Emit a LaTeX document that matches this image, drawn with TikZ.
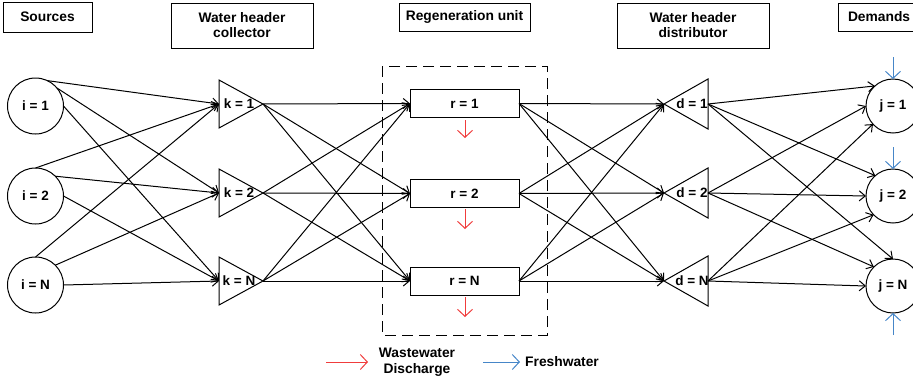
\documentclass[tikz,border=0pt]{standalone}
\usepackage{fontspec}
\setmainfont{Liberation Sans}
\usetikzlibrary{arrows.meta}
\definecolor{wastered}{RGB}{240,60,60}
\definecolor{freshblue}{RGB}{70,134,200}
\begin{document}
\begin{tikzpicture}[x=1pt,y=-1pt,
  lbl/.style={font=\fontsize{13.5}{15}\selectfont\bfseries},
  hdr/.style={draw,line width=1pt,font=\fontsize{13.8}{15}\selectfont\bfseries,align=center,inner sep=0pt},
  nodecirc/.style={draw,circle,inner sep=0pt,outer sep=0pt,line width=1pt,lbl},
  rbox/.style={draw,minimum width=109pt,minimum height=28pt,inner sep=0pt,outer sep=0pt,line width=1pt,lbl},
  tri/.style={draw,line width=1pt,line join=miter},
  conn/.style={line width=1pt,-{Straight Barb[length=6pt,width=10pt]}},
  wastearrow/.style={draw=wastered,line width=1pt,-{Straight Barb[length=7pt,width=15pt]}},
  fresharrow/.style={draw=freshblue,line width=1pt,-{Straight Barb[length=7pt,width=15pt]}},
  legtext/.style={font=\fontsize{13.8}{15.5}\selectfont\bfseries,align=center,inner sep=0pt}
]
\path[use as bounding box,clip] (0,0) rectangle (913,381);

% headers
\node[hdr,minimum width=89pt,minimum height=30pt] (hsrc) at (47.5,17) {Sources};
\node[hdr,minimum width=142pt,minimum height=45pt] (hcol) at (242,25.5) {Water header\\collector};
\node[hdr,minimum width=131pt,minimum height=28pt] (hreg) at (464.5,17) {Regeneration unit};
\node[hdr,minimum width=152pt,minimum height=45pt] (hdis) at (693,25.5) {Water header\\distributor};
\node[hdr,minimum width=80pt,minimum height=28pt,text width=60pt,align=left] (hdem) at (878,17) {Demands};

% dashed regeneration frame
\draw[line width=1pt,dash pattern=on 11pt off 6pt] (382,66) rectangle (547,335);

% sources
\node[nodecirc,minimum size=56pt] (i1) at (35.5,106) {i = 1};
\node[nodecirc,minimum size=56pt] (i2) at (35.5,196) {i = 2};
\node[nodecirc,minimum size=56pt] (iN) at (35.5,285) {i = N};

% collector triangles
\foreach \n/\yy/\t in {1/104/1,2/193/2,N/281/N}{
  \draw[tri] (219,\yy-24) -- (263,\yy) -- (219,\yy+24) -- cycle;
  \coordinate (kin\n) at (219,\yy);
  \coordinate (kout\n) at (263,\yy);
  \node[lbl,inner sep=0pt] (k\n) at (239,\yy) {k = \t};
}

% regeneration boxes
\node[rbox] (r1) at (464.5,103.5) {r = 1};
\node[rbox] (r2) at (464.5,193.5) {r = 2};
\node[rbox] (rN) at (464.5,281) {r = N};

% distributor triangles
\foreach \n/\yy/\t in {1/104/1,2/193/2,N/281/N}{
  \draw[tri] (664,\yy) -- (708,\yy-25) -- (708,\yy+25) -- cycle;
  \coordinate (din\n) at (664,\yy);
  \coordinate (dout\n) at (708,\yy);
  \node[lbl,inner sep=0pt] (d\n) at (692,\yy) {d = \t};
}

% demands
\node[nodecirc,minimum size=54pt] (j1) at (893,106) {j = 1};
\node[nodecirc,minimum size=54pt] (j2) at (893,196) {j = 2};
\node[nodecirc,minimum size=54pt] (jN) at (893,286) {j = N};

% sources -> collectors
\draw[conn] (i1.65) -- (kin1);
\draw[conn] (i1.40) -- (kin2);
\draw[conn] (i1.0) -- (kinN);
\draw[conn] (i2.90) -- (kin1);
\draw[conn] (i2.45) -- (kin2);
\draw[conn] (i2.0) -- (kinN);
\draw[conn] (iN.90) -- (kin1);
\draw[conn] (iN.45) -- (kin2);
\draw[conn] (iN.0) -- (kinN);

% collectors -> regeneration
\foreach \a in {1,2,N}{
  \foreach \b in {1,2,N}{
    \draw[conn] (kout\a) -- (r\b.west);
  }
}

% regeneration -> distributors
\foreach \a in {1,2,N}{
  \foreach \b in {1,2,N}{
    \draw[conn] (r\a.east) -- (din\b);
  }
}

% distributors -> demands
\draw[conn] (dout1) -- (j1.132);
\draw[conn] (dout2) -- (j1.180);
\draw[conn] (doutN) -- (j1.222);
\draw[conn] (dout1) -- (j2.131);
\draw[conn] (dout2) -- (j2.180);
\draw[conn] (doutN) -- (j2.224);
\draw[conn] (dout1) -- (jN.90);
\draw[conn] (dout2) -- (jN.135);
\draw[conn] (doutN) -- (jN.180);

% wastewater discharges
\coordinate (w1) at (465,120);
\coordinate (w2) at (465,209);
\coordinate (wN) at (465,297);
\draw[wastearrow] (w1) -- (465,138);
\draw[wastearrow] (w2) -- (465,229);
\draw[wastearrow] (wN) -- (465,317);

% freshwater
\coordinate (f1) at (893,57);
\coordinate (f2) at (893,147);
\coordinate (fN) at (893,335);
\draw[fresharrow] (f1) -- (j1.north);
\draw[fresharrow] (f2) -- (j2.north);
\draw[fresharrow] (fN) -- (jN.south);

% legend
\coordinate (lw0) at (326,362);
\coordinate (lw1) at (368,362);
\draw[wastearrow] (lw0) -- (lw1);
\node[legtext] (lwt) at (417,362) {Wastewater\\Discharge};
\coordinate (lf0) at (483,362);
\coordinate (lf1) at (520,362);
\draw[fresharrow] (lf0) -- (lf1);
\node[legtext,anchor=west] (lft) at (525,362) {Freshwater};
\end{tikzpicture}
\end{document}
